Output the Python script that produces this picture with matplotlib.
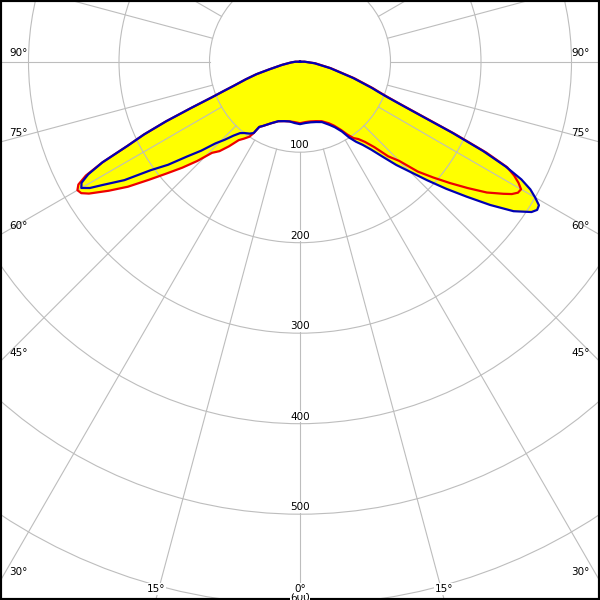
import numpy as np
import matplotlib
matplotlib.use("Agg")
import matplotlib.pyplot as plt
from matplotlib.patches import Circle

# luminous intensity curves, angle from nadir (deg, negative = left), value in cd/klm
red_angles = [-90, -85, -80, -76, -74, -72, -70, -69, -68, -67, -66, -65, -64, -63, -62, -61,
              -60, -59, -58, -56, -54, -52, -50, -48, -46, -44, -42, -40, -38, -36, -34, -33,
              -32, -30, -25, -20, -15, -10, -5, 0, 5, 10, 15, 20, 25, 28, 31, 33, 35, 37, 39,
              41, 43, 45, 47, 49, 51, 53, 55, 57, 58, 59, 60, 61, 62, 63, 64, 65, 66, 67, 68,
              69, 70, 73, 78, 84, 90]
red_cd = [5, 10, 20, 35, 50, 63, 78, 90, 105, 130, 162, 190, 212, 245, 268, 280,
          284, 282, 275, 255, 235, 212, 192, 175, 158, 140, 133, 122, 110, 105, 100, 94,
          85, 82, 75, 70, 68, 67, 67, 68, 67, 67, 68, 70, 75, 80, 88, 96, 103, 107, 114,
          125, 143, 155, 178, 195, 213, 232, 252, 268, 276, 281, 282, 276, 268, 257, 229, 188, 148, 122, 105,
          94, 86, 63, 35, 17, 5]

blue_angles = [-90, -85, -80, -76, -74, -72, -70, -69, -68, -67, -66, -65, -64, -63, -62, -61,
               -60, -59, -58, -56, -54, -52, -50, -48, -46, -44, -42, -40, -38, -35, -33, -32,
               -30, -25, -20, -15, -10, -5, 0, 5, 10, 15, 20, 25, 28, 31, 33, 35, 37, 39, 41,
               43, 45, 47, 49, 51, 53, 55, 57, 58, 59, 60, 61, 62, 63, 64, 65, 66, 67, 68, 69,
               70, 73, 78, 84, 90]
blue_cd = [5, 10, 20, 35, 50, 63, 78, 90, 105, 130, 162, 190, 212, 245, 265, 276,
           279, 271, 257, 234, 204, 185, 163, 147, 130, 120, 110, 103, 100, 97, 94, 85,
           82, 75, 70, 68, 67, 68, 69, 68, 68, 69, 71, 77, 82, 90, 100, 108, 115, 125, 139,
           156, 172, 192, 214, 237, 263, 288, 305, 309, 308, 300, 291, 277, 255, 225, 185, 145, 120, 103, 92,
           84, 61, 34, 16, 5]

ring_values = [100, 200, 300, 400, 500, 600, 700]
ring_labels = ["100", "200", "300", "400", "500", "600"]
spoke_angles = list(range(0, 360, 15))
angle_labels = [90, 75, 60, 45, 30, 15, 0]

GRID = "#bdbdbd"
FS = 7.5


def to_xy(ang, r):
    a = np.radians(np.asarray(ang, dtype=float))
    r = np.asarray(r, dtype=float)
    return r * np.sin(a), -r * np.cos(a)


fig = plt.figure(figsize=(6, 6), dpi=100)
ax = fig.add_axes([0, 0, 1, 1])
scale = 0.905  # px per cd
xmax = 300 / scale
ytop = 61.7 / scale
ybot = -(600 - 61.7) / scale
ax.set_xlim(-xmax, xmax)
ax.set_ylim(ybot, ytop)
ax.set_aspect("equal")
ax.set_xticks([])
ax.set_yticks([])
for sp in ax.spines.values():
    sp.set_linewidth(3)
    sp.set_color("black")

# filled curves
for angs, vals in [(red_angles, red_cd), (blue_angles, blue_cd)]:
    x, y = to_xy(angs, vals)
    ax.fill(np.r_[0, x, 0], np.r_[0, y, 0], color="#ffff00", lw=0, zorder=1)

# grid
for rv in ring_values:
    ax.add_patch(Circle((0, 0), rv, fill=False, ec=GRID, lw=0.8, zorder=2))
for a in spoke_angles:
    x, y = to_xy([a, a], [100, 900])
    ax.plot(x, y, color=GRID, lw=0.8, zorder=2)

# curve outlines, closed through the centre
x, y = to_xy(red_angles, red_cd)
ax.plot(np.r_[0, x, 0], np.r_[0, y, 0], color="#ee0000", lw=1.6, zorder=3)
x, y = to_xy(blue_angles, blue_cd)
ax.plot(np.r_[0, x, 0], np.r_[0, y, 0], color="#0000b4", lw=1.6, zorder=3)

# ring labels
for rv, lab in zip(ring_values, ring_labels):
    ax.annotate(lab, xy=(0, -rv), xytext=(0, 2), textcoords="offset pixels",
                ha="center", va="bottom", fontsize=FS, zorder=5, annotation_clip=False,
                bbox=dict(fc="white", ec="none", pad=0.4))

# angle labels where the spokes leave the frame
for a in angle_labels:
    for side in (-1, 1):
        if a == 0 and side == 1:
            continue
        t = np.radians(a)
        if a > 0 and xmax / np.tan(t) < -ybot:
            yy = -xmax / np.tan(t)
            if side < 0:
                ax.annotate(f"{a}°", xy=(-xmax, yy), xytext=(9, 4), textcoords="offset pixels",
                            ha="left", va="bottom", fontsize=FS, zorder=5)
            else:
                ax.annotate(f"{a}°", xy=(xmax, yy), xytext=(-10, 4), textcoords="offset pixels",
                            ha="right", va="bottom", fontsize=FS, zorder=5)
        else:
            xx = side * (-ybot) * np.tan(t)
            ax.annotate(f"{a}°", xy=(xx, ybot), xytext=(0, 6), textcoords="offset pixels",
                        ha="center", va="bottom", fontsize=FS, zorder=5,
                        bbox=dict(fc="white", ec="none", pad=0.4))

fig.savefig("out.png", dpi=100)
